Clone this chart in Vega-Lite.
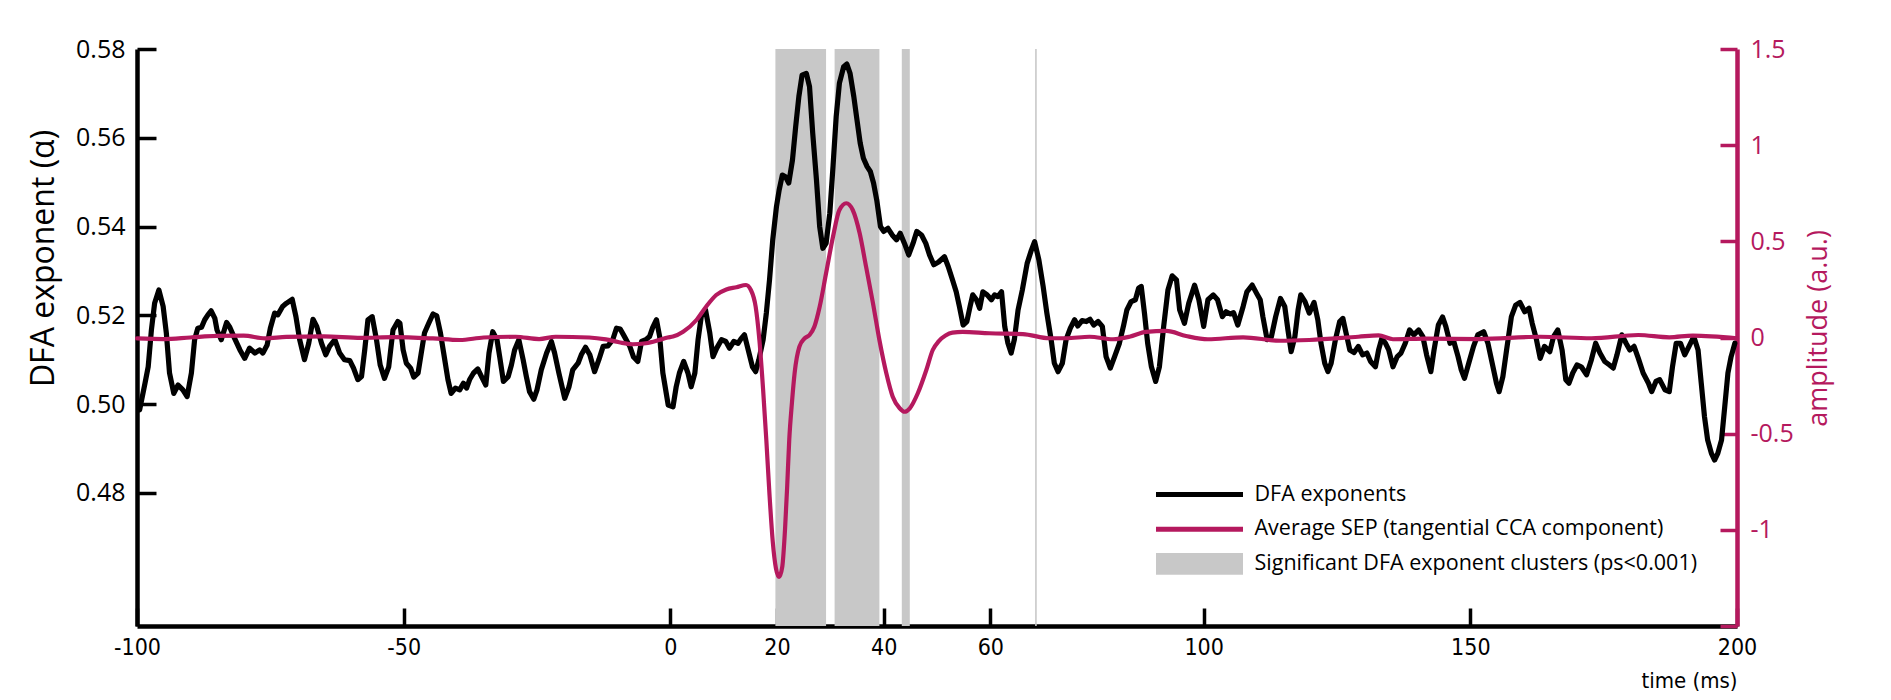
{
  "$schema": "https://vega.github.io/schema/vega-lite/v6.json",
  "width": 1600,
  "height": 577,
  "autosize": {"type": "none"},
  "padding": {"left": 137, "top": 49, "right": 154, "bottom": 74},
  "background": "white",
  "config": {"view": {"stroke": null}, "font": "Open Sans"},
  "datasets": {
    "bands": [
      {"start": 19.7, "end": 29.2},
      {"start": 30.8, "end": 39.2},
      {"start": 43.4, "end": 44.9},
      {"start": 68.4, "end": 68.7}
    ],
    "dfa": [
      {"t": -99.5, "v": 0.4987}, {"t": -98.5, "v": 0.5047}, {"t": -97.9, "v": 0.5084}, {"t": -97.3, "v": 0.5167},
      {"t": -96.7, "v": 0.5227}, {"t": -95.9, "v": 0.5257}, {"t": -95.1, "v": 0.522}, {"t": -94.5, "v": 0.516},
      {"t": -93.9, "v": 0.507}, {"t": -93.1, "v": 0.5024}, {"t": -92.3, "v": 0.5043}, {"t": -91.4, "v": 0.5032},
      {"t": -90.6, "v": 0.5017}, {"t": -89.8, "v": 0.507}, {"t": -89.2, "v": 0.5145}, {"t": -88.6, "v": 0.5171},
      {"t": -87.9, "v": 0.5173}, {"t": -87.3, "v": 0.519}, {"t": -86.7, "v": 0.5201}, {"t": -86.1, "v": 0.521},
      {"t": -85.4, "v": 0.5193}, {"t": -85.0, "v": 0.5167}, {"t": -84.2, "v": 0.5145}, {"t": -83.2, "v": 0.5184},
      {"t": -82.6, "v": 0.5173}, {"t": -81.7, "v": 0.5148}, {"t": -80.7, "v": 0.5122}, {"t": -79.8, "v": 0.5103},
      {"t": -78.9, "v": 0.5126}, {"t": -77.9, "v": 0.5115}, {"t": -77.0, "v": 0.5122}, {"t": -76.4, "v": 0.5115},
      {"t": -75.6, "v": 0.5133}, {"t": -75.0, "v": 0.5171}, {"t": -74.2, "v": 0.5205}, {"t": -73.6, "v": 0.5201},
      {"t": -72.7, "v": 0.522}, {"t": -72.0, "v": 0.5227}, {"t": -70.9, "v": 0.5236}, {"t": -70.2, "v": 0.5197},
      {"t": -69.5, "v": 0.5145}, {"t": -68.6, "v": 0.51}, {"t": -67.8, "v": 0.5137}, {"t": -67.0, "v": 0.5191},
      {"t": -66.3, "v": 0.5175}, {"t": -65.4, "v": 0.5137}, {"t": -64.6, "v": 0.5111}, {"t": -63.9, "v": 0.513},
      {"t": -62.9, "v": 0.5145}, {"t": -62.0, "v": 0.5115}, {"t": -61.1, "v": 0.51}, {"t": -60.1, "v": 0.5098},
      {"t": -59.4, "v": 0.5081}, {"t": -58.6, "v": 0.5055}, {"t": -57.9, "v": 0.5062}, {"t": -57.3, "v": 0.5122},
      {"t": -56.7, "v": 0.519}, {"t": -55.9, "v": 0.5197}, {"t": -55.1, "v": 0.5145}, {"t": -54.4, "v": 0.5088},
      {"t": -53.6, "v": 0.5058}, {"t": -52.8, "v": 0.5084}, {"t": -52.0, "v": 0.5167}, {"t": -51.1, "v": 0.5186},
      {"t": -50.7, "v": 0.5182}, {"t": -50.1, "v": 0.5122}, {"t": -49.5, "v": 0.5092}, {"t": -48.7, "v": 0.5081},
      {"t": -48.1, "v": 0.5061}, {"t": -47.3, "v": 0.507}, {"t": -46.7, "v": 0.5115}, {"t": -46.1, "v": 0.516},
      {"t": -45.3, "v": 0.5182}, {"t": -44.5, "v": 0.5203}, {"t": -43.8, "v": 0.5199}, {"t": -43.1, "v": 0.516},
      {"t": -42.5, "v": 0.5115}, {"t": -41.7, "v": 0.5055}, {"t": -41.1, "v": 0.5024}, {"t": -40.3, "v": 0.5036},
      {"t": -39.5, "v": 0.5032}, {"t": -38.8, "v": 0.5047}, {"t": -38.2, "v": 0.5036}, {"t": -37.6, "v": 0.5056},
      {"t": -36.9, "v": 0.507}, {"t": -36.1, "v": 0.5079}, {"t": -35.4, "v": 0.5062}, {"t": -34.6, "v": 0.5043},
      {"t": -34.0, "v": 0.5115}, {"t": -33.3, "v": 0.5163}, {"t": -32.5, "v": 0.5145}, {"t": -32.0, "v": 0.5107},
      {"t": -31.3, "v": 0.5051}, {"t": -30.4, "v": 0.5062}, {"t": -29.8, "v": 0.5088}, {"t": -29.2, "v": 0.5122},
      {"t": -28.4, "v": 0.5145}, {"t": -27.6, "v": 0.51}, {"t": -27.0, "v": 0.5062}, {"t": -26.4, "v": 0.5028},
      {"t": -25.6, "v": 0.5011}, {"t": -25.0, "v": 0.5032}, {"t": -24.2, "v": 0.5077}, {"t": -23.2, "v": 0.5115},
      {"t": -22.3, "v": 0.5141}, {"t": -21.7, "v": 0.5115}, {"t": -20.9, "v": 0.507}, {"t": -19.8, "v": 0.5013},
      {"t": -19.0, "v": 0.5039}, {"t": -18.3, "v": 0.5077}, {"t": -17.3, "v": 0.5092}, {"t": -16.7, "v": 0.5111},
      {"t": -15.9, "v": 0.5128}, {"t": -15.1, "v": 0.5111}, {"t": -14.2, "v": 0.5073}, {"t": -13.4, "v": 0.51},
      {"t": -12.6, "v": 0.513}, {"t": -11.7, "v": 0.5131}, {"t": -10.8, "v": 0.5145}, {"t": -10.1, "v": 0.5171},
      {"t": -9.4, "v": 0.5169}, {"t": -8.6, "v": 0.5152}, {"t": -7.6, "v": 0.513}, {"t": -6.9, "v": 0.5106},
      {"t": -6.1, "v": 0.5096}, {"t": -5.4, "v": 0.5141}, {"t": -4.6, "v": 0.5145}, {"t": -3.9, "v": 0.5152},
      {"t": -3.3, "v": 0.5173}, {"t": -2.6, "v": 0.519}, {"t": -2.0, "v": 0.5152}, {"t": -1.4, "v": 0.507},
      {"t": -0.4, "v": 0.4998}, {"t": 0.5, "v": 0.4994}, {"t": 1.1, "v": 0.5039}, {"t": 1.7, "v": 0.507},
      {"t": 2.5, "v": 0.5096}, {"t": 3.3, "v": 0.507}, {"t": 3.9, "v": 0.5039}, {"t": 4.6, "v": 0.507},
      {"t": 5.2, "v": 0.5145}, {"t": 5.8, "v": 0.5197}, {"t": 6.6, "v": 0.5212}, {"t": 7.4, "v": 0.516},
      {"t": 8.0, "v": 0.5107}, {"t": 8.7, "v": 0.5126}, {"t": 9.6, "v": 0.5145}, {"t": 10.4, "v": 0.5141},
      {"t": 11.1, "v": 0.5126}, {"t": 11.9, "v": 0.5141}, {"t": 12.7, "v": 0.5137}, {"t": 13.3, "v": 0.5148},
      {"t": 13.9, "v": 0.5156}, {"t": 14.6, "v": 0.5122}, {"t": 15.4, "v": 0.5084}, {"t": 16.0, "v": 0.5073},
      {"t": 16.6, "v": 0.51}, {"t": 17.4, "v": 0.5145}, {"t": 18.0, "v": 0.5205}, {"t": 18.6, "v": 0.528},
      {"t": 19.2, "v": 0.537}, {"t": 19.9, "v": 0.5445}, {"t": 20.4, "v": 0.5482}, {"t": 21.0, "v": 0.5516},
      {"t": 21.6, "v": 0.5512}, {"t": 22.2, "v": 0.5498}, {"t": 22.9, "v": 0.555}, {"t": 23.5, "v": 0.5625},
      {"t": 24.1, "v": 0.5693}, {"t": 24.7, "v": 0.5741}, {"t": 25.5, "v": 0.5745}, {"t": 26.1, "v": 0.5715},
      {"t": 26.7, "v": 0.561}, {"t": 27.4, "v": 0.5505}, {"t": 28.0, "v": 0.54}, {"t": 28.6, "v": 0.5351},
      {"t": 29.2, "v": 0.5362}, {"t": 29.9, "v": 0.543}, {"t": 30.5, "v": 0.5535}, {"t": 31.1, "v": 0.5648},
      {"t": 31.7, "v": 0.5723}, {"t": 32.5, "v": 0.576}, {"t": 33.1, "v": 0.5766}, {"t": 33.7, "v": 0.5745},
      {"t": 34.4, "v": 0.5693}, {"t": 35.0, "v": 0.564}, {"t": 35.6, "v": 0.5588}, {"t": 36.2, "v": 0.5554},
      {"t": 36.9, "v": 0.5535}, {"t": 37.5, "v": 0.5524}, {"t": 38.1, "v": 0.5498}, {"t": 38.7, "v": 0.546},
      {"t": 39.4, "v": 0.54}, {"t": 40.0, "v": 0.5389}, {"t": 40.8, "v": 0.5396}, {"t": 41.6, "v": 0.5381},
      {"t": 42.4, "v": 0.537}, {"t": 43.1, "v": 0.5385}, {"t": 43.9, "v": 0.5362}, {"t": 44.7, "v": 0.5336},
      {"t": 45.5, "v": 0.5362}, {"t": 46.2, "v": 0.5389}, {"t": 47.1, "v": 0.5381}, {"t": 47.9, "v": 0.5362},
      {"t": 48.6, "v": 0.5336}, {"t": 49.4, "v": 0.5314}, {"t": 50.3, "v": 0.532}, {"t": 51.4, "v": 0.5332},
      {"t": 52.1, "v": 0.531}, {"t": 52.9, "v": 0.528}, {"t": 53.6, "v": 0.5253}, {"t": 54.2, "v": 0.522},
      {"t": 54.9, "v": 0.5178}, {"t": 55.6, "v": 0.5186}, {"t": 56.2, "v": 0.522}, {"t": 56.7, "v": 0.5246},
      {"t": 57.4, "v": 0.5235}, {"t": 58.0, "v": 0.5216}, {"t": 58.6, "v": 0.5253}, {"t": 59.4, "v": 0.5246},
      {"t": 60.2, "v": 0.5235}, {"t": 60.8, "v": 0.5246}, {"t": 61.4, "v": 0.5242}, {"t": 62.1, "v": 0.5253},
      {"t": 62.7, "v": 0.5175}, {"t": 63.3, "v": 0.5137}, {"t": 63.9, "v": 0.5115}, {"t": 64.5, "v": 0.5145},
      {"t": 65.2, "v": 0.5212}, {"t": 66.0, "v": 0.5257}, {"t": 66.9, "v": 0.5317}, {"t": 67.7, "v": 0.5347},
      {"t": 68.3, "v": 0.5366}, {"t": 69.1, "v": 0.5325}, {"t": 69.9, "v": 0.5265}, {"t": 70.6, "v": 0.5205},
      {"t": 71.4, "v": 0.5145}, {"t": 72.0, "v": 0.5092}, {"t": 72.7, "v": 0.5073}, {"t": 73.5, "v": 0.5092},
      {"t": 74.2, "v": 0.5145}, {"t": 75.0, "v": 0.5171}, {"t": 75.8, "v": 0.519}, {"t": 76.4, "v": 0.5176},
      {"t": 77.2, "v": 0.5188}, {"t": 78.0, "v": 0.5186}, {"t": 78.7, "v": 0.5191}, {"t": 79.4, "v": 0.5178},
      {"t": 80.2, "v": 0.5186}, {"t": 81.0, "v": 0.5175}, {"t": 81.7, "v": 0.5107}, {"t": 82.5, "v": 0.5081},
      {"t": 83.3, "v": 0.5107}, {"t": 84.2, "v": 0.5137}, {"t": 85.0, "v": 0.5178}, {"t": 85.6, "v": 0.5212},
      {"t": 86.4, "v": 0.5231}, {"t": 87.2, "v": 0.5235}, {"t": 87.8, "v": 0.5261}, {"t": 88.3, "v": 0.5265},
      {"t": 88.9, "v": 0.5205}, {"t": 89.5, "v": 0.5137}, {"t": 90.2, "v": 0.5084}, {"t": 91.0, "v": 0.5051},
      {"t": 91.7, "v": 0.5084}, {"t": 92.5, "v": 0.5175}, {"t": 93.3, "v": 0.5257}, {"t": 94.1, "v": 0.5289},
      {"t": 94.9, "v": 0.528}, {"t": 95.5, "v": 0.5212}, {"t": 96.4, "v": 0.5182}, {"t": 97.2, "v": 0.5227},
      {"t": 98.3, "v": 0.5268}, {"t": 99.1, "v": 0.5235}, {"t": 100.0, "v": 0.5175}, {"t": 100.8, "v": 0.5235},
      {"t": 101.8, "v": 0.5246}, {"t": 102.6, "v": 0.5235}, {"t": 103.5, "v": 0.5197}, {"t": 104.2, "v": 0.5208},
      {"t": 105.0, "v": 0.5203}, {"t": 105.6, "v": 0.5206}, {"t": 106.4, "v": 0.5178}, {"t": 107.4, "v": 0.522},
      {"t": 108.1, "v": 0.5253}, {"t": 109.1, "v": 0.5268}, {"t": 109.9, "v": 0.525}, {"t": 110.6, "v": 0.5235},
      {"t": 111.1, "v": 0.5197}, {"t": 111.9, "v": 0.5145}, {"t": 112.7, "v": 0.5152}, {"t": 113.5, "v": 0.5197},
      {"t": 114.4, "v": 0.5238}, {"t": 115.2, "v": 0.522}, {"t": 115.8, "v": 0.5167}, {"t": 116.4, "v": 0.5118},
      {"t": 117.1, "v": 0.5152}, {"t": 117.7, "v": 0.5212}, {"t": 118.2, "v": 0.5246}, {"t": 119.0, "v": 0.5231},
      {"t": 119.8, "v": 0.5205}, {"t": 120.7, "v": 0.5229}, {"t": 121.4, "v": 0.519}, {"t": 122.0, "v": 0.5137},
      {"t": 122.7, "v": 0.5092}, {"t": 123.3, "v": 0.5073}, {"t": 123.9, "v": 0.5092}, {"t": 124.7, "v": 0.5145},
      {"t": 125.5, "v": 0.5186}, {"t": 126.1, "v": 0.5193}, {"t": 126.7, "v": 0.516}, {"t": 127.4, "v": 0.5122},
      {"t": 128.2, "v": 0.5116}, {"t": 129.0, "v": 0.513}, {"t": 129.8, "v": 0.5111}, {"t": 130.6, "v": 0.5115},
      {"t": 131.3, "v": 0.5096}, {"t": 132.2, "v": 0.5084}, {"t": 132.8, "v": 0.5122}, {"t": 133.4, "v": 0.5148},
      {"t": 134.1, "v": 0.5137}, {"t": 134.7, "v": 0.5122}, {"t": 135.5, "v": 0.5084}, {"t": 136.3, "v": 0.5107},
      {"t": 137.0, "v": 0.5115}, {"t": 137.8, "v": 0.5137}, {"t": 138.6, "v": 0.5167}, {"t": 139.4, "v": 0.5156},
      {"t": 140.3, "v": 0.5167}, {"t": 141.1, "v": 0.5152}, {"t": 141.8, "v": 0.5111}, {"t": 142.6, "v": 0.5073},
      {"t": 143.2, "v": 0.5122}, {"t": 144.0, "v": 0.5178}, {"t": 144.8, "v": 0.5196}, {"t": 145.4, "v": 0.5175},
      {"t": 146.2, "v": 0.5137}, {"t": 146.9, "v": 0.5141}, {"t": 147.7, "v": 0.5107}, {"t": 148.3, "v": 0.5077},
      {"t": 148.9, "v": 0.5058}, {"t": 149.7, "v": 0.5092}, {"t": 150.6, "v": 0.513}, {"t": 151.4, "v": 0.5156},
      {"t": 152.5, "v": 0.5163}, {"t": 153.3, "v": 0.5137}, {"t": 154.1, "v": 0.5092}, {"t": 154.9, "v": 0.5047},
      {"t": 155.4, "v": 0.5028}, {"t": 156.1, "v": 0.5062}, {"t": 156.8, "v": 0.5122}, {"t": 157.7, "v": 0.5197},
      {"t": 158.5, "v": 0.5223}, {"t": 159.3, "v": 0.5229}, {"t": 160.2, "v": 0.5208}, {"t": 161.0, "v": 0.5216},
      {"t": 161.6, "v": 0.5182}, {"t": 162.4, "v": 0.5145}, {"t": 163.1, "v": 0.5103}, {"t": 163.9, "v": 0.513},
      {"t": 164.9, "v": 0.5118}, {"t": 165.6, "v": 0.5152}, {"t": 166.4, "v": 0.5167}, {"t": 167.2, "v": 0.5122},
      {"t": 167.9, "v": 0.5055}, {"t": 168.5, "v": 0.5047}, {"t": 169.2, "v": 0.507}, {"t": 170.0, "v": 0.5088},
      {"t": 170.8, "v": 0.5084}, {"t": 171.8, "v": 0.5066}, {"t": 172.7, "v": 0.51}, {"t": 173.5, "v": 0.5137},
      {"t": 174.3, "v": 0.5115}, {"t": 175.2, "v": 0.5096}, {"t": 176.1, "v": 0.5088}, {"t": 176.8, "v": 0.5081},
      {"t": 177.5, "v": 0.5111}, {"t": 178.4, "v": 0.5156}, {"t": 179.2, "v": 0.5137}, {"t": 179.9, "v": 0.5122},
      {"t": 180.7, "v": 0.513}, {"t": 181.5, "v": 0.5103}, {"t": 182.4, "v": 0.507}, {"t": 183.4, "v": 0.5047},
      {"t": 184.0, "v": 0.5028}, {"t": 184.8, "v": 0.5051}, {"t": 185.5, "v": 0.5055}, {"t": 186.5, "v": 0.5032},
      {"t": 187.3, "v": 0.5028}, {"t": 187.9, "v": 0.5084}, {"t": 188.6, "v": 0.5137}, {"t": 189.4, "v": 0.5137},
      {"t": 190.2, "v": 0.5111}, {"t": 191.0, "v": 0.513}, {"t": 191.9, "v": 0.5152}, {"t": 192.7, "v": 0.5122},
      {"t": 193.3, "v": 0.5047}, {"t": 193.9, "v": 0.4972}, {"t": 194.5, "v": 0.4919}, {"t": 195.2, "v": 0.4889},
      {"t": 195.8, "v": 0.4874}, {"t": 196.4, "v": 0.4889}, {"t": 197.1, "v": 0.4919}, {"t": 197.7, "v": 0.4994},
      {"t": 198.3, "v": 0.507}, {"t": 198.9, "v": 0.5107}, {"t": 199.6, "v": 0.5137}
    ],
    "sep": [
      {"t": -100, "a": -0.005}, {"t": -95, "a": -0.008}, {"t": -90, "a": 0.0}, {"t": -85, "a": 0.008},
      {"t": -80, "a": 0.01}, {"t": -76, "a": -0.005}, {"t": -72, "a": 0.003}, {"t": -65, "a": 0.006},
      {"t": -58, "a": -0.002}, {"t": -52, "a": 0.002}, {"t": -44.5, "a": -0.005}, {"t": -39.5, "a": -0.013},
      {"t": -35, "a": 0.0}, {"t": -29, "a": 0.004}, {"t": -24.6, "a": -0.008}, {"t": -21.5, "a": 0.004},
      {"t": -15.2, "a": 0.0}, {"t": -12.1, "a": -0.01}, {"t": -9.6, "a": -0.025}, {"t": -7.1, "a": -0.035},
      {"t": -4.6, "a": -0.03}, {"t": -2.1, "a": -0.013}, {"t": -0.5, "a": 0.0}, {"t": 0.5, "a": 0.005},
      {"t": 2.4, "a": 0.03}, {"t": 4.9, "a": 0.091}, {"t": 6.7, "a": 0.16}, {"t": 8.6, "a": 0.221},
      {"t": 10.5, "a": 0.25}, {"t": 12.4, "a": 0.261}, {"t": 14.2, "a": 0.273}, {"t": 15.1, "a": 0.247},
      {"t": 16.0, "a": 0.16}, {"t": 16.7, "a": -0.013}, {"t": 17.4, "a": -0.273}, {"t": 18.0, "a": -0.533},
      {"t": 18.6, "a": -0.82}, {"t": 19.2, "a": -1.06}, {"t": 19.8, "a": -1.2}, {"t": 20.4, "a": -1.245},
      {"t": 21.0, "a": -1.19}, {"t": 21.5, "a": -1.0}, {"t": 21.9, "a": -0.78}, {"t": 22.3, "a": -0.53},
      {"t": 22.8, "a": -0.34}, {"t": 23.3, "a": -0.186}, {"t": 24.2, "a": -0.048}, {"t": 25.2, "a": -0.004},
      {"t": 26.1, "a": 0.013}, {"t": 27.0, "a": 0.056}, {"t": 28.0, "a": 0.16}, {"t": 29.2, "a": 0.334},
      {"t": 30.5, "a": 0.524}, {"t": 31.7, "a": 0.663}, {"t": 33.0, "a": 0.698}, {"t": 34.2, "a": 0.663},
      {"t": 35.5, "a": 0.542}, {"t": 36.7, "a": 0.368}, {"t": 38.0, "a": 0.178}, {"t": 39.2, "a": -0.013},
      {"t": 40.5, "a": -0.186}, {"t": 41.7, "a": -0.308}, {"t": 43.0, "a": -0.368}, {"t": 43.9, "a": -0.386},
      {"t": 44.9, "a": -0.368}, {"t": 46.4, "a": -0.29}, {"t": 48.0, "a": -0.169}, {"t": 49.2, "a": -0.065},
      {"t": 50.3, "a": -0.02}, {"t": 51.6, "a": 0.01}, {"t": 52.9, "a": 0.025}, {"t": 54.8, "a": 0.029},
      {"t": 59.8, "a": 0.022}, {"t": 66.1, "a": 0.018}, {"t": 71.1, "a": -0.004}, {"t": 74.2, "a": -0.004},
      {"t": 78.6, "a": 0.004}, {"t": 83.0, "a": -0.009}, {"t": 86.1, "a": 0.004}, {"t": 89.2, "a": 0.029},
      {"t": 93.0, "a": 0.034}, {"t": 96.7, "a": 0.008}, {"t": 100.8, "a": -0.009}, {"t": 107.4, "a": 0.001},
      {"t": 114.4, "a": -0.017}, {"t": 119.8, "a": -0.013}, {"t": 129.0, "a": 0.004}, {"t": 132.8, "a": 0.011},
      {"t": 135.5, "a": -0.009}, {"t": 141.8, "a": -0.006}, {"t": 151.7, "a": -0.008}, {"t": 163.1, "a": 0.004},
      {"t": 172.7, "a": -0.004}, {"t": 181.5, "a": 0.013}, {"t": 187.3, "a": 0.001}, {"t": 191.7, "a": 0.01},
      {"t": 200, "a": -0.004}
    ]
  },
  "layer": [
    {
      "data": {"name": "bands"},
      "mark": {"type": "rect", "color": "#c8c8c8"},
      "encoding": {
        "x": {
          "field": "start", "type": "quantitative",
          "scale": {"domain": [-100, 200], "nice": false, "zero": false},
          "axis": {
            "values": [-100, -50, 0, 20, 40, 60, 100, 150, 200],
            "labelExpr": "'' + datum.value",
            "labelFlush": false,
            "grid": false,
            "domainColor": "black", "domainWidth": 4.5,
            "tickColor": "black", "tickWidth": 3.5, "tickSize": -18,
            "labelPadding": 28, "labelFontSize": 23, "labelColor": "black",
            "labelFont": "DejaVu Sans Condensed, Roboto",
            "title": "time (ms)", "titleFontSize": 22, "titleFontWeight": "normal", "titleColor": "black",
            "titleFont": "DejaVu Sans Condensed, Roboto",
            "titleAnchor": "end", "titleAlign": "right", "titleBaseline": "top", "titleX": 1600, "titleY": 44
          }
        },
        "x2": {"field": "end"},
        "color": {
          "datum": "Significant DFA exponent clusters (ps<0.001)", "type": "nominal",
          "scale": {
            "domain": ["DFA exponents", "Average SEP (tangential CCA component)", "Significant DFA exponent clusters (ps<0.001)"],
            "range": ["#000000", "#B5195E", "#C8C8C8"]
          },
          "legend": {
            "title": null, "orient": "none", "legendX": 1019, "legendY": 434.5,
            "padding": 0, "rowPadding": 12.7, "symbolSize": 473, "symbolStrokeWidth": 0,
            "symbolOffset": 32.5, "labelOffset": 44, "labelFontSize": 21.5, "labelColor": "black",
            "labelFont": "Open Sans", "labelLimit": 600,
            "encode": {
              "symbols": {
                "update": {
                  "shape": {"signal": "datum.value == 'Significant DFA exponent clusters (ps<0.001)' ? 'M-4,-1H4V1H-4Z' : 'M-4,-0.23H4V0.23H-4Z'"},
                  "fill": {"signal": "datum.value == 'DFA exponents' ? '#000000' : (datum.value == 'Significant DFA exponent clusters (ps<0.001)' ? '#C8C8C8' : '#B5195E')"},
                  "stroke": {"value": "transparent"},
                  "strokeWidth": {"value": 0},
                  "opacity": {"value": 1}
                }
              }
            }
          }
        }
      }
    },
    {
      "data": {"name": "dfa"},
      "mark": {"type": "line", "strokeWidth": 5.2, "strokeJoin": "round", "strokeCap": "round"},
      "encoding": {
        "x": {"field": "t", "type": "quantitative"},
        "y": {
          "field": "v", "type": "quantitative",
          "scale": {"domain": [0.45, 0.58], "nice": false, "zero": false},
          "axis": {
            "orient": "left",
            "values": [0.48, 0.5, 0.52, 0.54, 0.56, 0.58],
            "format": ".2f", "grid": false, "labelFlush": false,
            "domainColor": "black", "domainWidth": 4.5,
            "tickColor": "black", "tickWidth": 3.5, "tickSize": -19,
            "labelPadding": 31, "labelFontSize": 25, "labelColor": "black", "labelFont": "Open Sans",
            "title": "DFA exponent (α)", "titleFontSize": 32, "titleFontWeight": "normal", "titleColor": "black",
            "titleFont": "Open Sans", "titleAngle": 270, "titleAlign": "center", "titleBaseline": "alphabetic",
            "titleX": -84, "titleY": 209
          }
        },
        "color": {"datum": "DFA exponents", "type": "nominal"}
      }
    },
    {
      "data": {"name": "sep"},
      "mark": {"type": "line", "strokeWidth": 4.2, "strokeJoin": "round", "strokeCap": "round", "interpolate": "monotone"},
      "encoding": {
        "x": {"field": "t", "type": "quantitative"},
        "y": {
          "field": "a", "type": "quantitative",
          "scale": {"domain": [-1.5, 1.5], "nice": false, "zero": false},
          "axis": {
            "orient": "right",
            "values": [-1.5, -1, -0.5, 0, 0.5, 1, 1.5],
            "labelExpr": "datum.value == -1.5 ? '' : '' + datum.value",
            "grid": false, "labelFlush": false,
            "domainColor": "#B5195E", "domainWidth": 4.5,
            "tickColor": "#B5195E", "tickWidth": 3.5, "tickSize": -17,
            "labelPadding": 30, "labelFontSize": 25, "labelColor": "#B5195E", "labelFont": "Open Sans",
            "title": "amplitude (a.u.)", "titleFontSize": 27, "titleFontWeight": "normal", "titleColor": "#B5195E",
            "titleFont": "Open Sans", "titleAngle": 270, "titleAlign": "center", "titleBaseline": "alphabetic",
            "titleX": 89, "titleY": 279
          }
        },
        "color": {"datum": "Average SEP (tangential CCA component)", "type": "nominal"}
      }
    }
  ],
  "resolve": {"scale": {"y": "independent"}}
}
